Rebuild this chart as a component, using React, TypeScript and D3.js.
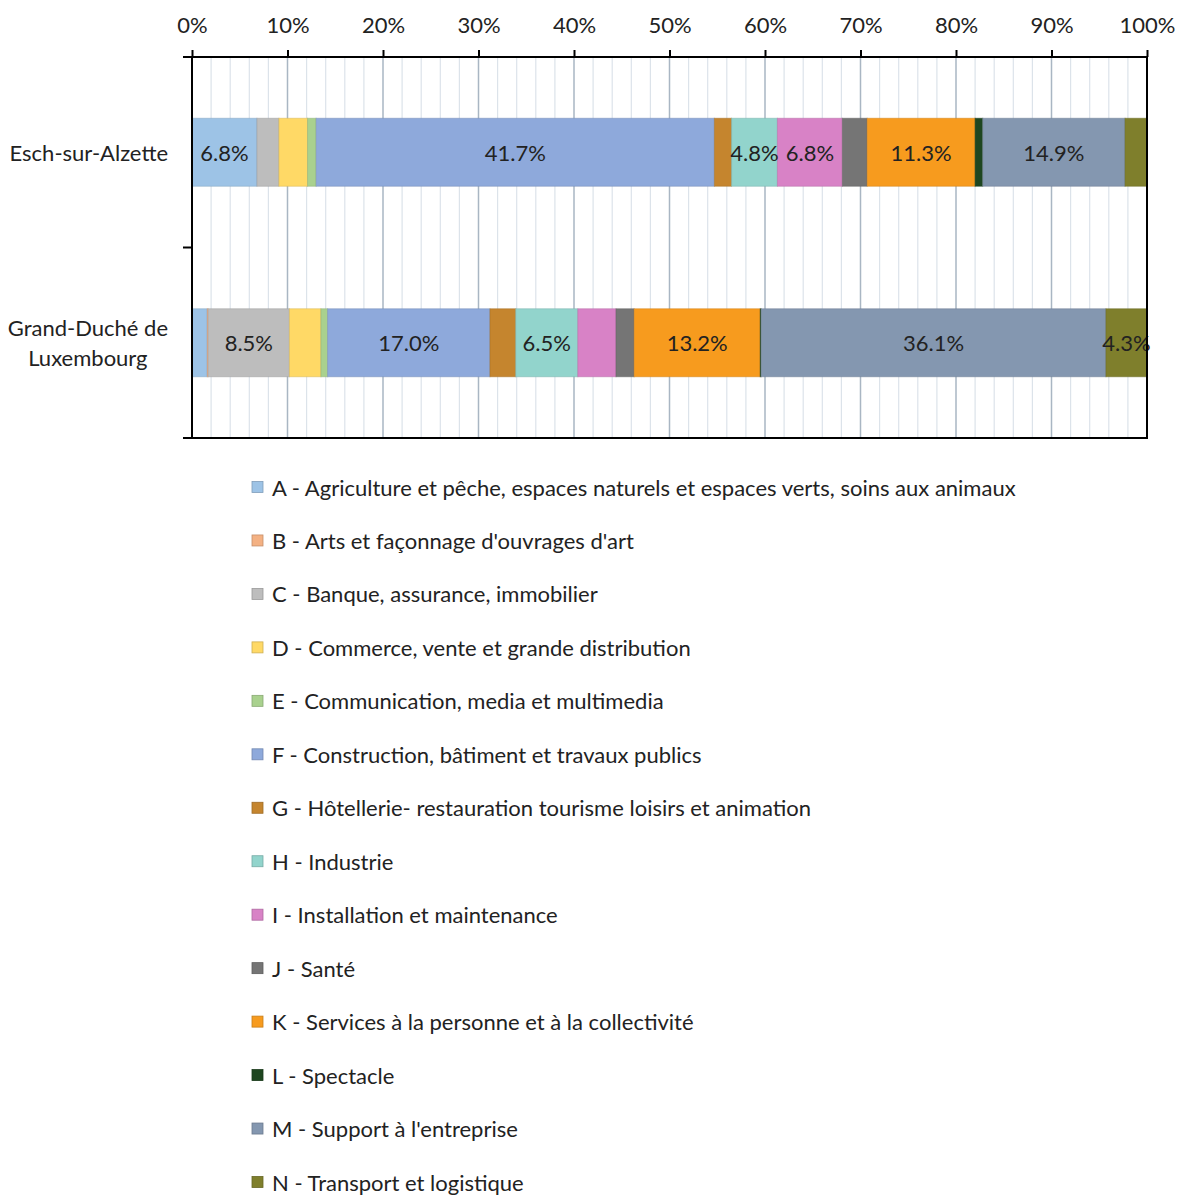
import * as d3 from "d3";
import { useEffect, useRef } from "react";

// categories (y axis) and how their labels wrap
const categories = ["Esch-sur-Alzette", "Grand-Duché de Luxembourg"];
const categoryLines = [["Esch-sur-Alzette"], ["Grand-Duché de", "Luxembourg"]];

// sectors, in stacking order
const codes = ["A", "B", "C", "D", "E", "F", "G", "H", "I", "J", "K", "L", "M", "N"];
const sectorNames = [
  "A - Agriculture et pêche, espaces naturels et espaces verts, soins aux animaux",
  "B - Arts et façonnage d'ouvrages d'art",
  "C - Banque, assurance, immobilier",
  "D - Commerce, vente et grande distribution",
  "E - Communication, media et multimedia",
  "F - Construction, bâtiment et travaux publics",
  "G - Hôtellerie- restauration tourisme loisirs et animation",
  "H - Industrie",
  "I - Installation et maintenance",
  "J - Santé",
  "K - Services à la personne et à la collectivité",
  "L - Spectacle",
  "M - Support à l'entreprise",
  "N - Transport et logistique",
];
const sectorColors = [
  "#9DC3E6", "#F4B183", "#BDBDBD", "#FFD966", "#A9D18E", "#8EA9DB", "#C5852E",
  "#92D4CC", "#D882C6", "#757575", "#F79B1E", "#1E4620", "#8497B0", "#7F7F2C",
];

// shares in %
const eschValues = [6.8, 0, 2.3, 3.0, 0.9, 41.7, 1.8, 4.8, 6.8, 2.6, 11.3, 0.8, 14.9, 2.3];
const luxValues = [1.6, 0.1, 8.5, 3.3, 0.7, 17.0, 2.7, 6.5, 4.0, 1.9, 13.2, 0.1, 36.1, 4.3];

const xTicks = [0, 10, 20, 30, 40, 50, 60, 70, 80, 90, 100];

const FONT = "Lato, 'Open Sans', sans-serif";
const FS = 22;
const INK = "#222";

export default function App() {
  const svgRef = useRef<SVGSVGElement>(null);

  useEffect(() => {
    const svg = d3.select(svgRef.current);
    svg.selectAll("*").remove();

    const left = 192, right = 1147, top = 57, bottom = 438;

    const x = d3.scaleLinear().domain([0, 100]).range([left, right]);
    const y = d3
      .scaleBand()
      .domain(categories)
      .range([top, bottom])
      .paddingInner(0.643)
      .paddingOuter(0.3215);

    const rows = categories.map((cat, i) => {
      const vals = i === 0 ? eschValues : luxValues;
      const row: any = { cat };
      codes.forEach((c, j) => (row[c] = vals[j]));
      return row;
    });
    const series = d3.stack().keys(codes)(rows);
    const color = d3.scaleOrdinal<string>().domain(codes).range(sectorColors);

    // gridlines: minor every 2%, major every 10%
    const grid = svg.append("g");
    grid
      .selectAll("line.minor")
      .data(x.ticks(50).filter((t) => t % 10 !== 0))
      .join("line")
      .attr("x1", (d) => x(d))
      .attr("x2", (d) => x(d))
      .attr("y1", top)
      .attr("y2", bottom)
      .attr("stroke", "#DCE3EA")
      .attr("stroke-width", 1.2);
    grid
      .selectAll("line.major")
      .data(xTicks.slice(1, -1))
      .join("line")
      .attr("x1", (d) => x(d))
      .attr("x2", (d) => x(d))
      .attr("y1", top)
      .attr("y2", bottom)
      .attr("stroke", "#A9B6C3")
      .attr("stroke-width", 1.5);

    // stacked bars
    const layers = svg
      .append("g")
      .selectAll("g")
      .data(series)
      .join("g")
      .attr("fill", (s) => color(s.key));
    layers
      .selectAll("rect")
      .data((s) => s)
      .join("rect")
      .attr("x", (d) => x(d[0]))
      .attr("width", (d) => Math.max(0, x(d[1]) - x(d[0])))
      .attr("y", (d: any) => y(d.data.cat)!)
      .attr("height", y.bandwidth())
      .attr("stroke", function () {
        const f = d3.select(this.parentNode as any).attr("fill");
        return d3.color(f)!.darker(0.5).formatHex();
      })
      .attr("stroke-opacity", 0.5)
      .attr("stroke-width", (d) => (x(d[1]) - x(d[0]) > 0.5 ? 1 : 0));

    // value labels (only the larger segments carry one)
    const labels: { x: number; y: number; v: number }[] = [];
    series.forEach((s) =>
      s.forEach((d: any) => {
        const v = Math.round((d[1] - d[0]) * 10) / 10;
        if (v >= 4.3) labels.push({ x: x((d[0] + d[1]) / 2), y: y(d.data.cat)! + y.bandwidth() / 2, v });
      })
    );
    svg
      .append("g")
      .selectAll("text")
      .data(labels)
      .join("text")
      .attr("x", (d) => d.x)
      .attr("y", (d) => d.y)
      .attr("text-anchor", "middle")
      .attr("dominant-baseline", "central")
      .attr("font-family", FONT)
      .attr("font-size", FS)
      .attr("fill", INK)
      .text((d) => d.v.toFixed(1) + "%");

    // plot frame
    svg
      .append("rect")
      .attr("x", left)
      .attr("y", top)
      .attr("width", right - left)
      .attr("height", bottom - top)
      .attr("fill", "none")
      .attr("stroke", "#000")
      .attr("stroke-width", 2);

    // top axis
    const xAxis = d3
      .axisTop(x)
      .tickValues(xTicks)
      .tickFormat((d) => d + "%")
      .tickSize(7)
      .tickPadding(17);
    const gx = svg.append("g").attr("transform", `translate(0,${top})`).call(xAxis);
    gx.select(".domain").remove();
    gx.selectAll("line").attr("stroke", "#000").attr("stroke-width", 2);
    gx.selectAll("text")
      .attr("font-family", FONT)
      .attr("font-size", FS)
      .attr("fill", INK);

    // left axis ticks at band boundaries
    const bounds = [top, ...categories.map((c) => y(c)! + y.bandwidth() / 2 + y.step() / 2)];
    svg
      .append("g")
      .selectAll("line")
      .data(bounds)
      .join("line")
      .attr("x1", left - 9)
      .attr("x2", left)
      .attr("y1", (d) => d)
      .attr("y2", (d) => d)
      .attr("stroke", "#000")
      .attr("stroke-width", 2);

    // category labels
    const labelRight = left - 24;
    const lineH = 30;
    categories.forEach((c, i) => {
      const lines = categoryLines[i];
      const cy = y(c)! + y.bandwidth() / 2;
      const g = svg.append("g");
      const texts = g
        .selectAll("text")
        .data(lines)
        .join("text")
        .attr("y", (_, k) => cy + (k - (lines.length - 1) / 2) * lineH)
        .attr("dominant-baseline", "central")
        .attr("text-anchor", "middle")
        .attr("font-family", FONT)
        .attr("font-size", FS)
        .attr("fill", INK)
        .text((d) => d);
      let maxW = 0;
      texts.each(function () {
        maxW = Math.max(maxW, (this as SVGTextElement).getComputedTextLength());
      });
      texts.attr("x", labelRight - maxW / 2);
    });

    // legend
    const ly = d3.scalePoint().domain(codes).range([487, 1182]);
    const legend = svg
      .append("g")
      .selectAll("g")
      .data(codes)
      .join("g")
      .attr("transform", (c) => `translate(252,${ly(c)})`);
    legend
      .append("rect")
      .attr("x", 0)
      .attr("y", -5.5)
      .attr("width", 11)
      .attr("height", 11)
      .attr("fill", (c) => color(c))
      .attr("stroke", (c) => d3.color(color(c))!.darker(0.6).formatHex())
      .attr("stroke-width", 0.8);
    legend
      .append("text")
      .attr("x", 20)
      .attr("y", 0)
      .attr("dominant-baseline", "central")
      .attr("font-family", FONT)
      .attr("font-size", FS)
      .attr("fill", INK)
      .text((_, i) => sectorNames[i]);
  }, []);

  return (
    <svg
      ref={svgRef}
      width={1182}
      height={1197}
      style={{ position: "absolute", left: 0, top: 0, background: "#fff" }}
    />
  );
}
